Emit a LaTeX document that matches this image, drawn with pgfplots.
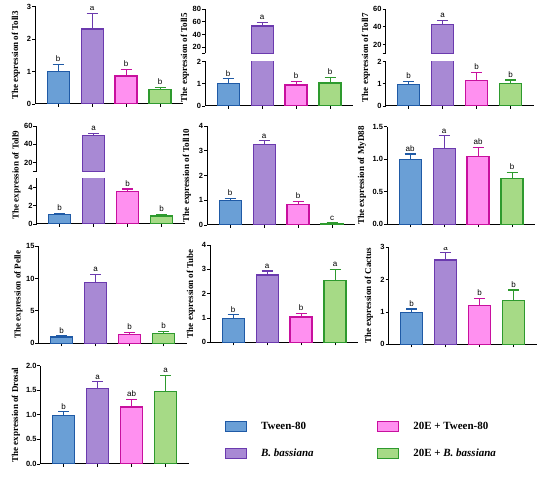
\documentclass[border=0pt]{standalone}
\usepackage{fontspec}
\setmainfont{Liberation Serif}
\setsansfont{Liberation Sans}
\usepackage{pgfplots}
\pgfplotsset{compat=1.18}
\definecolor{c1f}{HTML}{6A9FD6}\definecolor{c1d}{HTML}{1F5AA6}
\definecolor{c2f}{HTML}{A889D4}\definecolor{c2d}{HTML}{6B3AAE}
\definecolor{c3f}{HTML}{FF90F0}\definecolor{c3d}{HTML}{C8109E}
\definecolor{c4f}{HTML}{A6DA86}\definecolor{c4d}{HTML}{2E9A2E}
\pgfplotsset{
  gp/.style={
    scale only axis, width=148.2pt, anchor=south west,
    xmin=-0.68, xmax=3.68,
    axis lines*=left,
    axis line style={line width=1pt, black},
    xtick={0,1,2,3}, xticklabels={},
    tick align=outside, major tick length=3pt,
    tick style={line width=0.9pt, black},
    ybar, bar width=22pt, bar shift=0pt,
    tick label style={font=\sffamily\bfseries\fontsize{7.5}{8}\selectfont},
    yticklabel style={inner xsep=0.8pt},
    /pgf/number format/assume math mode=true,
    clip=true,
  },
  eb/.style={error bars/.cd, y dir=plus, y explicit, error mark=-,
    error bar style={draw=#1, line width=1.1pt},
    error mark options={rotate=90, draw=#1, line width=1.1pt, mark size=5.5pt}, /pgfplots/.cd},
  s1/.style={draw=c1d, fill=c1f, line width=1.2pt, eb=c1d},
  s2/.style={draw=c2d, fill=c2f, line width=1.2pt, eb=c2d},
  s3/.style={draw=c3d, fill=c3f, line width=1.2pt, eb=c3d},
  s4/.style={draw=c4d, fill=c4f, line width=1.2pt, eb=c4d},
  s2n/.style={draw=c2d, fill=c2f, line width=1.2pt},
  boxlegend/.style={legend image code/.code={\draw[##1] (0pt,-5pt) rectangle (21.5pt,5pt);}},
}
\tikzset{lt/.style={anchor=south, inner sep=0pt, yshift=2.5pt, font=\sffamily\fontsize{8}{9}\selectfont},
  yl/.style={rotate=90, font=\bfseries\fontsize{9}{10}\selectfont}}
\begin{document}
\begin{tikzpicture}
\useasboundingbox (0,0) rectangle (550pt,481pt);
% ---------- Toll3
\begin{axis}[gp, at={(35pt,377pt)}, height=97.5pt, ymin=0, ymax=3, ytick={0,1,2,3}]
\addplot[s1] coordinates {(0,1.0) +- (0,0.21)};
\addplot[s2] coordinates {(1,2.31) +- (0,0.48)};
\addplot[s3] coordinates {(2,0.86) +- (0,0.20)};
\addplot[s4] coordinates {(3,0.45) +- (0,0.07)};
\node[lt] at (axis cs:0,1.21) {b};
\node[lt] at (axis cs:1,2.79) {a};
\node[lt] at (axis cs:2,1.06) {b};
\node[lt] at (axis cs:3,0.52) {b};
\end{axis}
% ---------- Toll5 lower
\begin{axis}[gp, at={(205pt,375pt)}, height=44.5pt, ymin=0, ymax=2, ytick={0,1,2}]
\addplot[s1] coordinates {(0,1.0) +- (0,0.22)};
\addplot[s2n] coordinates {(1,53.5)};
\addplot[s3] coordinates {(2,0.94) +- (0,0.18)};
\addplot[s4] coordinates {(3,1.03) +- (0,0.27)};
\node[lt] at (axis cs:0,1.22) {b};
\node[lt] at (axis cs:2,1.12) {b};
\node[lt] at (axis cs:3,1.30) {b};
\end{axis}
% ---------- Toll5 upper
\begin{axis}[gp, at={(205pt,427.7pt)}, height=44pt, ymin=10, ymax=80, ytick={20,40,60,80},
  extra y ticks={10}, extra y tick labels={}, hide x axis]
\addplot[s2] coordinates {(1,53.5) +- (0,5.5)};
\node[lt] at (axis cs:1,59) {a};
\end{axis}
% ---------- Toll7 lower
\begin{axis}[gp, at={(385.5pt,375pt)}, height=44.5pt, ymin=0, ymax=2, ytick={0,1,2}]
\addplot[s1] coordinates {(0,0.97) +- (0,0.14)};
\addplot[s2n] coordinates {(1,43)};
\addplot[s3] coordinates {(2,1.16) +- (0,0.35)};
\addplot[s4] coordinates {(3,1.0) +- (0,0.17)};
\node[lt] at (axis cs:0,1.11) {b};
\node[lt] at (axis cs:2,1.51) {b};
\node[lt] at (axis cs:3,1.17) {b};
\end{axis}
% ---------- Toll7 upper
\begin{axis}[gp, at={(385.5pt,427.7pt)}, height=44pt, ymin=10, ymax=60, ytick={20,40,60},
  extra y ticks={10}, extra y tick labels={}, hide x axis]
\addplot[s2] coordinates {(1,43) +- (0,4.3)};
\node[lt] at (axis cs:1,47.3) {a};
\end{axis}
% ---------- Toll9 lower
\begin{axis}[gp, at={(36.5pt,257pt)}, height=45.7pt, ymin=0, ymax=5, ytick={0,2,4}]
\addplot[s1] coordinates {(0,1.0) +- (0,0.15)};
\addplot[s2n] coordinates {(1,49.4)};
\addplot[s3] coordinates {(2,3.55) +- (0,0.28)};
\addplot[s4] coordinates {(3,0.88) +- (0,0.18)};
\node[lt] at (axis cs:0,1.15) {b};
\node[lt] at (axis cs:2,3.83) {b};
\node[lt] at (axis cs:3,1.06) {b};
\end{axis}
% ---------- Toll9 upper
\begin{axis}[gp, at={(36.5pt,309.3pt)}, height=45.7pt, ymin=10, ymax=60, ytick={20,40,60},
  extra y ticks={10}, extra y tick labels={}, hide x axis]
\addplot[s2] coordinates {(1,49.4) +- (0,2.6)};
\node[lt] at (axis cs:1,52) {a};
\end{axis}
% ---------- Toll10
\begin{axis}[gp, at={(207pt,256pt)}, height=99pt, ymin=0, ymax=4, ytick={0,1,2,3,4}]
\addplot[s1] coordinates {(0,1.0) +- (0,0.07)};
\addplot[s2] coordinates {(1,3.26) +- (0,0.14)};
\addplot[s3] coordinates {(2,0.83) +- (0,0.11)};
\addplot[s4] coordinates {(3,0.05) +- (0,0.03)};
\node[lt] at (axis cs:0,1.07) {b};
\node[lt] at (axis cs:1,3.40) {a};
\node[lt] at (axis cs:2,0.94) {b};
\node[lt] at (axis cs:3,0.08) {c};
\end{axis}
% ---------- MyD88
\begin{axis}[gp, at={(387pt,256.7pt)}, height=97.6pt, ymin=0, ymax=1.5, ytick={0,0.5,1,1.5},
  yticklabel style={/pgf/number format/.cd, fixed, fixed zerofill, precision=1}]
\addplot[s1] coordinates {(0,0.99) +- (0,0.09)};
\addplot[s2] coordinates {(1,1.17) +- (0,0.19)};
\addplot[s3] coordinates {(2,1.04) +- (0,0.14)};
\addplot[s4] coordinates {(3,0.70) +- (0,0.10)};
\node[lt] at (axis cs:0,1.08) {ab};
\node[lt] at (axis cs:1,1.36) {a};
\node[lt] at (axis cs:2,1.18) {ab};
\node[lt] at (axis cs:3,0.80) {b};
\end{axis}
% ---------- Pelle
\begin{axis}[gp, at={(38.5pt,137.7pt)}, height=97.3pt, ymin=0, ymax=15, ytick={0,5,10,15}]
\addplot[s1] coordinates {(0,0.98) +- (0,0.15)};
\addplot[s2] coordinates {(1,9.4) +- (0,1.25)};
\addplot[s3] coordinates {(2,1.38) +- (0,0.32)};
\addplot[s4] coordinates {(3,1.55) +- (0,0.25)};
\node[lt] at (axis cs:0,1.13) {b};
\node[lt] at (axis cs:1,10.65) {a};
\node[lt] at (axis cs:2,1.70) {b};
\node[lt] at (axis cs:3,1.80) {b};
\end{axis}
% ---------- Tube
\begin{axis}[gp, at={(210pt,138.7pt)}, height=97.3pt, ymin=0, ymax=4, ytick={0,1,2,3,4}]
\addplot[s1] coordinates {(0,0.99) +- (0,0.14)};
\addplot[s2] coordinates {(1,2.77) +- (0,0.16)};
\addplot[s3] coordinates {(2,1.04) +- (0,0.15)};
\addplot[s4] coordinates {(3,2.53) +- (0,0.48)};
\node[lt] at (axis cs:0,1.13) {b};
\node[lt] at (axis cs:1,2.93) {a};
\node[lt] at (axis cs:2,1.19) {b};
\node[lt] at (axis cs:3,3.01) {a};
\end{axis}
% ---------- Cactus
\begin{axis}[gp, at={(388.5pt,136.7pt)}, height=97pt, ymin=0, ymax=3, ytick={0,1,2,3}]
\addplot[s1] coordinates {(0,0.99) +- (0,0.10)};
\addplot[s2] coordinates {(1,2.61) +- (0,0.22)};
\addplot[s3] coordinates {(2,1.20) +- (0,0.22)};
\addplot[s4] coordinates {(3,1.35) +- (0,0.33)};
\node[lt] at (axis cs:0,1.09) {b};
\node[lt] at (axis cs:1,2.83) {a};
\node[lt] at (axis cs:2,1.42) {b};
\node[lt] at (axis cs:3,1.68) {b};
\end{axis}
% ---------- Drosal + legend
\begin{axis}[gp, at={(40.5pt,17pt)}, height=98.3pt, ymin=0, ymax=2, ytick={0,0.5,1,1.5,2},
  yticklabel style={/pgf/number format/.cd, fixed, fixed zerofill, precision=1},
  legend style={draw=none, fill=none, at={(axis description cs:1.2416,0.4373)}, anchor=north west,
    inner sep=0pt, outer sep=0pt, font=\bfseries\fontsize{11}{13}\selectfont,
    row sep=16pt, nodes={inner sep=1pt},
    /tikz/every odd column/.append style={column sep=13pt},
    /tikz/every even column/.append style={column sep=62pt}},
  legend columns=2, transpose legend, legend cell align=left]
\addplot[forget plot, s1] coordinates {(0,0.99) +- (0,0.07)};
\addplot[forget plot, s2] coordinates {(1,1.53) +- (0,0.14)};
\addplot[forget plot, s3] coordinates {(2,1.16) +- (0,0.15)};
\addplot[forget plot, s4] coordinates {(3,1.47) +- (0,0.33)};
\node[lt] at (axis cs:0,1.06) {b};
\node[lt] at (axis cs:1,1.67) {a};
\node[lt] at (axis cs:2,1.31) {ab};
\node[lt] at (axis cs:3,1.80) {a};
\addlegendimage{boxlegend, draw=c1d, fill=c1f, line width=1.1pt}
\addlegendentry{Tween-80}
\addlegendimage{boxlegend, draw=c2d, fill=c2f, line width=1.1pt}
\addlegendentry{\textit{B. bassiana}}
\addlegendimage{boxlegend, draw=c3d, fill=c3f, line width=1.1pt}
\addlegendentry{20E + Tween-80}
\addlegendimage{boxlegend, draw=c4d, fill=c4f, line width=1.1pt}
\addlegendentry{20E + \textit{B. bassiana}}
\end{axis}
% ---------- y labels
\node[yl] at (16pt,425.5pt) {The expression of Toll3};
\node[yl] at (185pt,423.3pt) {The expression of Toll5};
\node[yl] at (366pt,423.3pt) {The expression of Toll7};
\node[yl] at (16.5pt,306pt) {The expression of Toll9};
\node[yl] at (187pt,305.5pt) {The expression of Toll10};
\node[yl] at (362pt,305.5pt) {The expression of MyD88};
\node[yl] at (18.5pt,186.3pt) {The expression of Pelle};
\node[yl] at (191pt,187.3pt) {The expression of Tube};
\node[yl] at (369pt,185.2pt) {The expression of Cactus};
\node[yl] at (16pt,66pt) {The expression of Drosal};
\end{tikzpicture}
\end{document}
